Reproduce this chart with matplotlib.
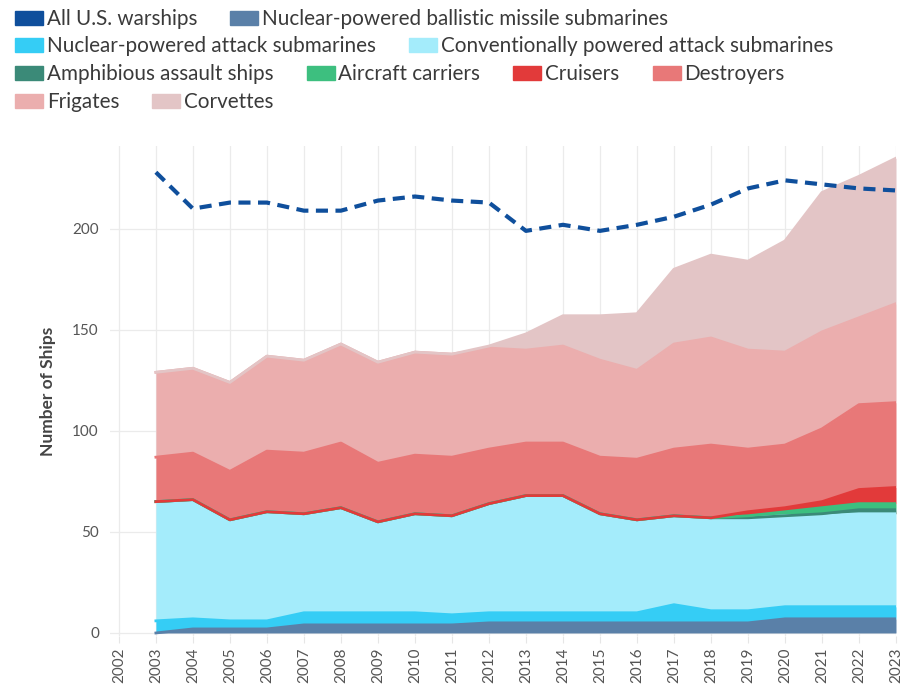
import numpy as np
import matplotlib.pyplot as plt
from matplotlib.patches import Rectangle

plt.rcParams['font.family'] = ['Lato', 'DejaVu Sans']

years = list(range(2003, 2024))
year_ticks = list(range(2002, 2024))

# dashed line
us_warships = [228, 210, 213, 213, 209, 209, 214, 216, 214, 213, 199,
               202, 199, 202, 206, 212, 220, 224, 222, 220, 219]

# stacked layers, bottom to top
ssbn = [0, 2, 2, 2, 4, 4, 4, 4, 4, 5, 5, 5, 5, 5, 5, 5, 5, 7, 7, 7, 7]
ssn = [6, 5, 4, 4, 6, 6, 6, 6, 5, 5, 5, 5, 5, 5, 9, 6, 6, 6, 6, 6, 6]
ssk = [59, 59, 50, 54, 49, 52, 45, 49, 49, 54, 58, 58, 49, 46, 44, 46, 46, 45, 45, 46, 46]
amphib = [0, 0, 0, 0, 0, 0, 0, 0, 0, 0, 0, 0, 0, 0, 0, 0, 0, 0, 1, 2, 2]
carriers = [0, 0, 0, 0, 0, 0, 0, 0, 0, 0, 0, 0, 0, 0, 0, 0, 1, 2, 3, 3, 3]
cruisers = [0, 0, 0, 0, 0, 0, 0, 0, 0, 0, 0, 0, 0, 0, 0, 0, 2, 2, 3, 7, 8]
destroyers = [22, 23, 24, 30, 30, 32, 29, 29, 29, 27, 26, 26, 28, 30, 33, 36, 31, 31, 36, 42, 42]
frigates = [42, 42, 44, 47, 46, 49, 50, 51, 51, 50, 46, 48, 48, 44, 52, 53, 49, 46, 48, 43, 49]
corvettes = [0, 0, 0, 0, 0, 0, 0, 0, 0, 1, 8, 15, 22, 28, 37, 41, 44, 55, 69, 70, 72]

layer_names = ['Nuclear-powered ballistic missile submarines',
               'Nuclear-powered attack submarines',
               'Conventionally powered attack submarines',
               'Amphibious assault ships', 'Aircraft carriers', 'Cruisers',
               'Destroyers', 'Frigates', 'Corvettes']
layer_values = [ssbn, ssn, ssk, amphib, carriers, cruisers, destroyers, frigates, corvettes]
layer_colors = ['#5a80a8', '#35cdf5', '#a4ecfb', '#3b8a78', '#3dbf7f',
                '#e23a3a', '#e87878', '#ebaeae', '#e3c5c6']
us_color = '#0f4f9c'

W, H = 907, 697
fig = plt.figure(figsize=(W / 100, H / 100), dpi=100)
ax = fig.add_axes([110 / W, (H - 636) / H, 786 / W, (636 - 146) / H])

# stacked areas, then an edge line on top of each layer
tops = np.cumsum(np.array(layer_values, dtype=float), axis=0)
bottoms = np.vstack([np.zeros(len(years)), tops[:-1]])
for bot, top, col in zip(bottoms, tops, layer_colors):
    ax.fill_between(years, bot, top, color=col, linewidth=0, zorder=2)
for top, col in zip(tops, layer_colors):
    ax.plot(years, top, color=col, lw=2, zorder=3, solid_joinstyle='round')

ax.plot(years, us_warships, color=us_color, lw=3, linestyle=(0, (2.9, 1.8)), zorder=5)

ax.set_xlim(2001.76, 2023)
ax.set_ylim(-1.5, 241)
ax.set_xticks(year_ticks)
ax.set_xticklabels([str(y) for y in year_ticks], rotation=90)
ax.set_yticks([0, 50, 100, 150, 200])
ax.grid(True, color='#ebebeb', lw=0.9)
ax.set_axisbelow(True)
for s in ax.spines.values():
    s.set_visible(False)
ax.tick_params(axis='y', length=0, labelsize=11, labelcolor='#555555', pad=8)
ax.tick_params(axis='x', length=5, color='#e6e6e6', labelsize=11, labelcolor='#555555', pad=3)
ax.set_ylabel('Number of Ships', fontsize=12.5, fontweight='bold', color='#444444', labelpad=12)

# legend, laid out in rows like the original
legend_rows = [
    [('All U.S. warships', us_color), (layer_names[0], layer_colors[0])],
    [(layer_names[1], layer_colors[1]), (layer_names[2], layer_colors[2])],
    [(layer_names[3], layer_colors[3]), (layer_names[4], layer_colors[4]),
     (layer_names[5], layer_colors[5]), (layer_names[6], layer_colors[6])],
    [(layer_names[7], layer_colors[7]), (layer_names[8], layer_colors[8])],
]
renderer = fig.canvas.get_renderer()
row_y = [18, 45, 73, 101]
for yy, row in zip(row_y, legend_rows):
    x = 15
    for label, col in row:
        fig.patches.append(Rectangle((x / W, (H - yy - 7) / H), 28 / W, 14 / H,
                                     color=col, transform=fig.transFigure, figure=fig))
        t = fig.text((x + 32) / W, (H - yy - 1) / H, label, fontsize=14.9, color='#3a3a3a',
                     va='center', ha='left')
        w = t.get_window_extent(renderer=renderer).width
        x = x + 32 + w + 33

fig.savefig('out.png', dpi=100)
